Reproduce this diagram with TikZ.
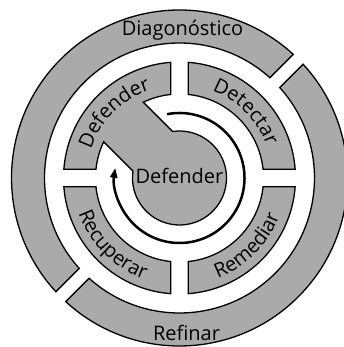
\documentclass[tikz,border=0pt]{standalone}
\usepackage{fontspec}
\setmainfont{Open Sans}
\usetikzlibrary{arrows.meta,decorations.text}
\definecolor{ringgray}{RGB}{170,170,170}
\newcommand{\lblfont}{\fontsize{20}{24}\selectfont}
\tikzset{
  >={Triangle[length=10pt,width=7pt]},
  seg/.style={fill=ringgray,draw=black,line width=1.3pt,line join=miter},
  lbl/.style={font=\lblfont,inner sep=0pt},
  arclbl/.style={decorate,decoration={text along path,text align=center,text={|\lblfont|#1}}},
}

\begin{document}
\begin{tikzpicture}[x=1pt,y=1pt]
\useasboundingbox (-179.5,-169) rectangle (163.5,178);
\foreach \b in {45,225}{%
 \pgfmathsetmacro{\ao}{\b+asin(7/168)}
 \pgfmathsetmacro{\bo}{\b+180-asin(7/168)}
 \pgfmathsetmacro{\ai}{\b+180-asin(7/135)}
 \pgfmathsetmacro{\bi}{\b+asin(7/135)}
 \draw[seg] (\ao:168pt) arc[start angle=\ao,end angle=\bo,radius=168pt]
   -- (\ai:135pt) arc[start angle=\ai,end angle=\bi,radius=135pt] -- cycle;}
\foreach \b in {0,180,270}{%
 \pgfmathsetmacro{\ao}{\b+asin(8.75/116)}
 \pgfmathsetmacro{\bo}{\b+90-asin(8.75/116)}
 \pgfmathsetmacro{\ai}{\b+90-asin(8.75/84)}
 \pgfmathsetmacro{\bi}{\b+asin(8.75/84)}
 \draw[seg] (\ao:116pt) arc[start angle=\ao,end angle=\bo,radius=116pt]
   -- (\ai:84pt) arc[start angle=\ai,end angle=\bi,radius=84pt] -- cycle;}
\pgfmathsetmacro{\ao}{90+asin(8.75/116)}
\pgfmathsetmacro{\bo}{180-asin(8.75/116)}
\pgfmathsetmacro{\ai}{180-asin(8.75/84)}
\pgfmathsetmacro{\bi}{90+asin(8.75/84)}
\pgfmathsetmacro{\wb}{135+asin(28/84)}
\pgfmathsetmacro{\wt}{135-asin(28/84)}
\pgfmathsetmacro{\cb}{135+asin(28/47)}
\pgfmathsetmacro{\ct}{495-asin(28/47)}
\draw[seg] (\ao:116pt) arc[start angle=\ao,end angle=\bo,radius=116pt]
  -- (\ai:84pt) arc[start angle=\ai,end angle=\wb,radius=84pt]
  -- (\cb:47pt) arc[start angle=\cb,end angle=\ct,radius=47pt]
  -- (\wt:84pt) arc[start angle=\wt,end angle=\bi,radius=84pt] -- cycle;
\draw[line width=2.5pt,->] (101:65pt) arc[start angle=101,end angle=-189,radius=65pt];
\node[lbl,anchor=base] (diag) at (3,142) {Diagonóstico};
\node[lbl,anchor=base] (refin) at (7,-162) {Refinar};
\node[lbl,anchor=base] (core) at (0,-6) {Defender};
\path[arclbl=Defender] (178:93pt) arc[start angle=178,end angle=92,radius=93pt];
\path[arclbl=Detectar] (88:93pt) arc[start angle=88,end angle=2,radius=93pt];
\path[arclbl=Recuperar] (182:107pt) arc[start angle=182,end angle=268,radius=107pt];
\path[arclbl=Remediar] (272:107pt) arc[start angle=272,end angle=358,radius=107pt];
\end{tikzpicture}
\end{document}
